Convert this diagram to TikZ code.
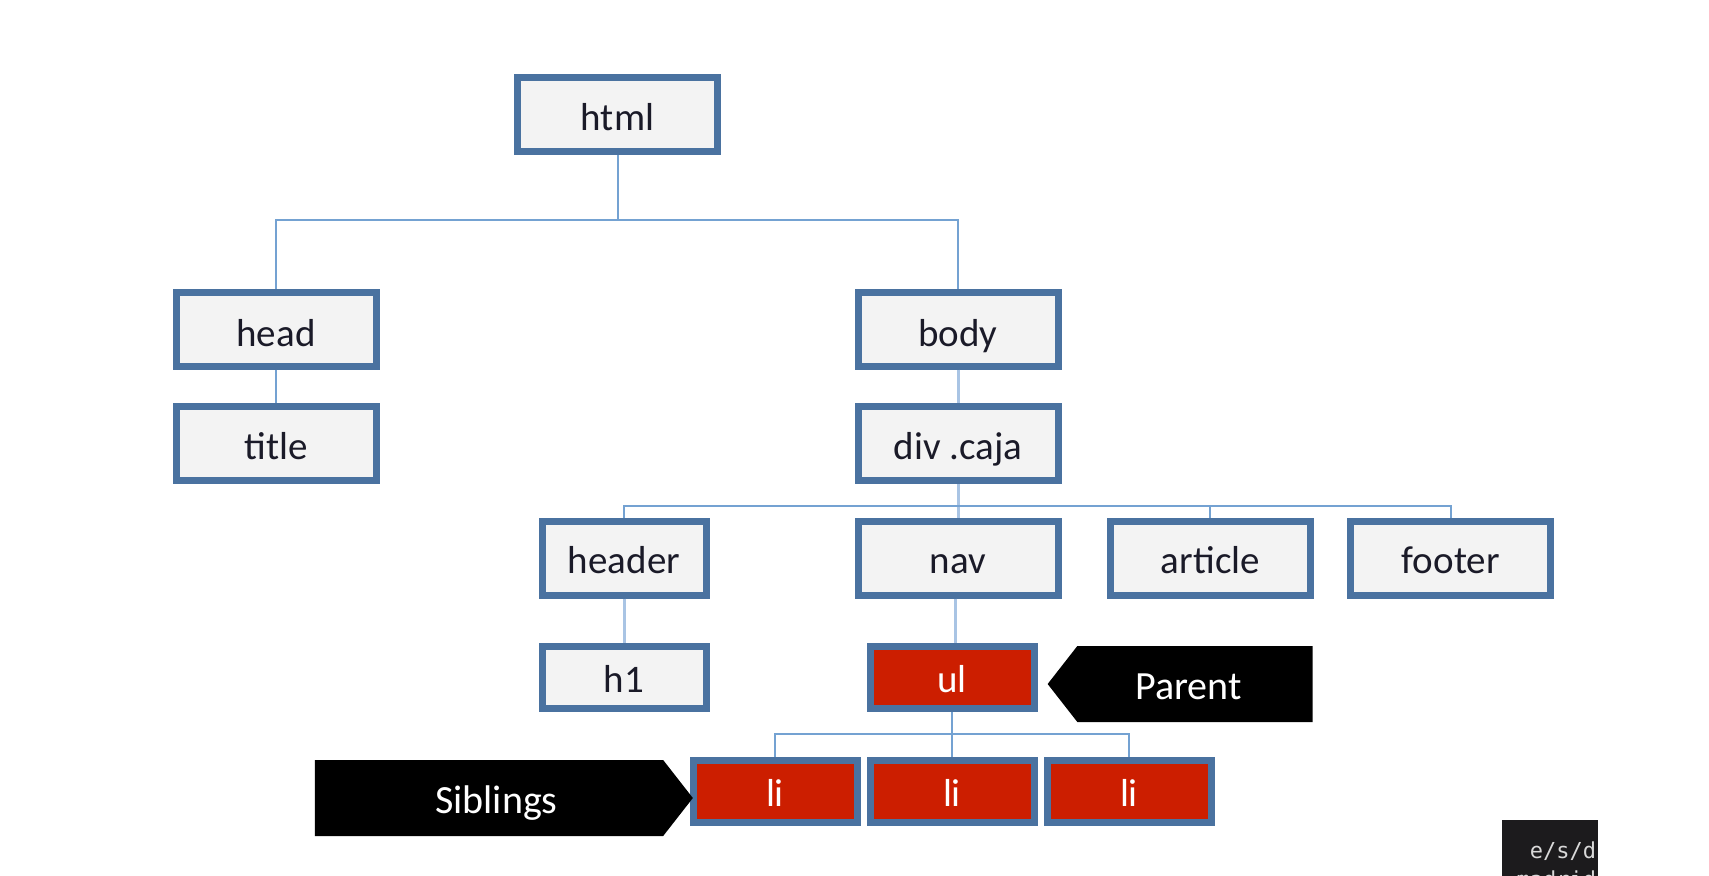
\documentclass[tikz,border=0pt]{standalone}
\usepackage{fontspec}
\setmainfont{Carlito}
\newfontfamily\logofont{DejaVu Sans Mono}
\usetikzlibrary{positioning}
\usetikzlibrary{shapes.symbols}
\definecolor{boxline}{HTML}{4A72A0}
\definecolor{boxfill}{HTML}{F3F3F3}
\definecolor{boxred}{HTML}{CC1E00}
\definecolor{boxtext}{HTML}{1A1A28}
\definecolor{busline}{HTML}{74A2D2}
\definecolor{stemline}{HTML}{A9C4E4}
\definecolor{logoback}{HTML}{1C1B1D}
\tikzstyle{tagbox} = [rectangle, draw=boxline, line width=3.5pt, fill=boxfill, text=boxtext, font=\fontsize{19.5}{22}\selectfont, text height=15.5pt, text depth=0pt, inner sep=0pt, minimum width=100pt, minimum height=37pt]
\tikzstyle{smallbox} = [tagbox, minimum width=82pt, minimum height=31pt]
\tikzstyle{redbox} = [smallbox, fill=boxred, text=white]
\tikzstyle{callout} = [signal, signal pointer angle=104, fill=black, text=white, font=\fontsize{20}{22}\selectfont, text height=15.5pt, text depth=0pt, inner sep=0pt, minimum height=38pt]
\tikzstyle{bus} = [draw=busline, line width=1pt]
\tikzstyle{stem} = [draw=stemline, line width=1.5pt]

\begin{document}
\begin{tikzpicture}[x=0.5pt, y=-0.5pt, node distance=57.3pt]
\useasboundingbox (0,0) rectangle (1709,875);

\node (html) [tagbox] at (617.5,114.5) {html};

\node (head) [tagbox, text height=17.5pt] at (276,329) {head};
\node (body) [tagbox, text height=17.5pt] at (958,329) {body};
\node (title) [tagbox, below of=head] {title};
\node (div) [tagbox, below of=body] {div .caja};

\node (nav) [tagbox, below of=div] {nav};
\node (header) [tagbox, minimum width=82pt, left of=nav, node distance=167pt] {header};
\node (article) [tagbox, right of=nav, node distance=126.2pt] {article};
\node (footer) [tagbox, right of=article, node distance=120.2pt] {footer};

\node (h1) [smallbox] at (624,677.4) {h1};
\node (ul) [redbox] at (952,677.4) {ul};
\node (li2) [redbox] at (952,791.3) {li};
\node (li1) [redbox, left of=li2, node distance=88.5pt] {li};
\node (li3) [redbox, right of=li2, node distance=88.5pt] {li};

\node (parent) [callout, signal to=west, minimum width=132.5pt] at (1195,684) {Parent\hspace*{6.5pt}};
\node (siblings) [callout, signal to=east, minimum width=189pt] at (489,798) {\hspace*{7.5pt}Siblings};

\coordinate (jhtml) at (617.5,220);
\coordinate (jdiv) at (958,505.8);
\coordinate (jul) at (952,733.6);

\draw [bus] (html) -- (jhtml);
\draw [bus] (jhtml) -| (head);
\draw [bus] (jhtml) -| (body);
\draw [bus] (head) -- (title);

\draw [stem] (body) -- (div);
\draw [stem] (div) -- (jdiv);
\draw [stem] (jdiv) -- (nav);
\draw [bus] (jdiv) -| (header);
\draw [bus] (jdiv) -| (article);
\draw [bus] (jdiv) -| (footer);

\draw [stem] (header) -- (h1);
\draw [stem] ([xshift=-1.5pt]nav.south) -- ([xshift=-1.5pt]nav.south |- ul.north);

\draw [bus] (ul) -- (jul);
\draw [bus] (jul) -| (li1);
\draw [bus] (jul) -- (li2);
\draw [bus] (jul) -| (li3);

\begin{scope}
\clip (0,0) rectangle (1709,875);
\node (logo) [fill=logoback, text=white!85!black, font=\logofont\fontsize{11}{14.5}\selectfont, anchor=north east, text width=46.5pt, inner ysep=10.5pt, inner xsep=0.75pt, align=right] at (1598,820) {e/s/d\\madrid};
\end{scope}
\end{tikzpicture}
\end{document}
